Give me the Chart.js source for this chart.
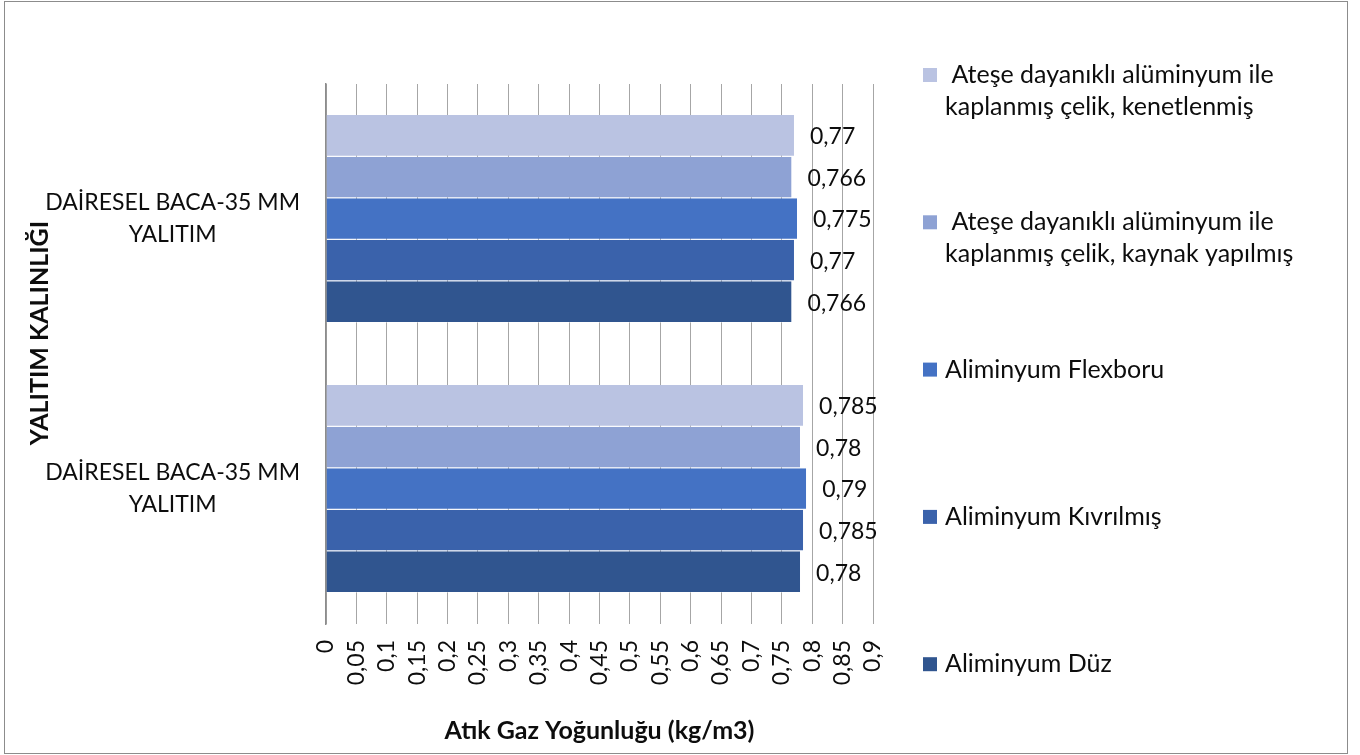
<!DOCTYPE html>
<html>
<head>
<meta charset="utf-8">
<title>Atık Gaz Yoğunluğu</title>
<script src="https://cdn.jsdelivr.net/npm/chart.js@4.4.1/dist/chart.umd.min.js"></script>
<style>
  body { margin: 0; background: #fff; }
  #wrap { position: relative; width: 1360px; height: 755px; }
  #frame { position: absolute; left: 4px; top: 1px; width: 1342px; height: 751px; border: 1.5px solid #8c8c8c; pointer-events: none; }
  canvas { position: absolute; left: 0; top: 0; }
</style>
</head>
<body>
<div id="wrap">
  <canvas id="chart" width="1360" height="755"></canvas>
  <div id="frame"></div>
</div>
<script>
// ========== VERİ ==========
const categories = [
    ['DAİRESEL BACA-35 MM', 'YALITIM'],
    ['DAİRESEL BACA-35 MM', 'YALITIM']
];

// legend satırları (üstten alta, grafikteki sırayla)
const seriesNames = [
    [' Ateşe dayanıklı alüminyum ile', 'kaplanmış çelik, kenetlenmiş'],
    [' Ateşe dayanıklı alüminyum ile', 'kaplanmış çelik, kaynak yapılmış'],
    ['Aliminyum Flexboru'],
    ['Aliminyum Kıvrılmış'],
    ['Aliminyum Düz']
];

const kenetlenmis = [0.77, 0.785];
const kaynakYapilmis = [0.766, 0.78];
const flexboru = [0.775, 0.79];
const kivrilmis = [0.77, 0.785];
const duz = [0.766, 0.78];

const seriesColors = ['#BAC3E2', '#8EA2D4', '#4472C4', '#3A62AB', '#30558F'];

const xMin = 0;
const xMax = 0.9;
const xStep = 0.05;

const axisTitleX = 'Atık Gaz Yoğunluğu (kg/m3)';
const axisTitleY = 'YALITIM KALINLIĞI';

const FONT = 'Lato, "Open Sans", sans-serif';

function fmt(v) {
    return String(Number(v.toFixed(3))).replace('.', ',');
}

// veri etiketleri: çubuğun sağına değer
const valueLabels = {
    id: 'valueLabels',
    afterDatasetsDraw(chart) {
        const ctx = chart.ctx;
        ctx.save();
        ctx.font = '23px ' + FONT;
        ctx.fillStyle = '#0d0d0d';
        ctx.textAlign = 'left';
        ctx.textBaseline = 'middle';
        chart.data.datasets.forEach((ds, i) => {
            chart.getDatasetMeta(i).data.forEach((bar, j) => {
                ctx.fillText(fmt(ds.data[j]), bar.x + 16, bar.y + 1);
            });
        });
        ctx.restore();
    }
};

// sağdaki legend + dikey eksen başlığı
const sideLegend = {
    id: 'sideLegend',
    afterDraw(chart) {
        const ctx = chart.ctx;
        ctx.save();
        ctx.font = '25px ' + FONT;
        ctx.fillStyle = '#0d0d0d';
        ctx.textBaseline = 'middle';
        ctx.textAlign = 'left';
        chart.data.datasets.forEach((ds, i) => {
            const y0 = 75 + 147.3 * i;
            ctx.fillStyle = ds.backgroundColor;
            ctx.fillRect(923, y0 - 7, 14, 14);
            ctx.fillStyle = '#0d0d0d';
            seriesNames[i].forEach((line, k) => {
                ctx.fillText(line, 945, y0 + k * 32);
            });
        });

        ctx.translate(40, 333);
        ctx.rotate(-Math.PI / 2);
        ctx.font = 'bold 25px ' + FONT;
        ctx.textAlign = 'center';
        ctx.fillText(axisTitleY, 0, 0);
        ctx.restore();
    }
};

const seriesData = [kenetlenmis, kaynakYapilmis, flexboru, kivrilmis, duz];

new Chart(document.getElementById('chart'), {
    type: 'bar',
    data: {
        labels: categories,
        datasets: seriesData.map((d, i) => ({
            label: seriesNames[i].join(' ').trim(),
            data: d,
            backgroundColor: seriesColors[i],
            borderColor: 'rgba(255,255,255,0.35)',
            borderWidth: { top: 0, right: 0, bottom: 1, left: 0 },
            borderSkipped: false,
            barPercentage: 1,
            categoryPercentage: 0.77
        }))
    },
    options: {
        indexAxis: 'y',
        responsive: false,
        animation: false,
        layout: { padding: { top: 84, right: 487, bottom: 0, left: 0 } },
        plugins: {
            legend: { display: false },
            tooltip: { enabled: false }
        },
        scales: {
            x: {
                min: xMin,
                max: xMax,
                afterFit: s => { s.height = 131; },
                ticks: {
                    stepSize: xStep,
                    autoSkip: false,
                    minRotation: 90,
                    maxRotation: 90,
                    padding: 16,
                    color: '#0d0d0d',
                    font: { family: FONT, size: 23 },
                    callback: v => fmt(v)
                },
                grid: { color: '#A6A6A6', lineWidth: 1, drawTicks: false },
                border: { display: false },
                title: {
                    display: true,
                    text: axisTitleX,
                    color: '#0d0d0d',
                    font: { family: FONT, size: 25, weight: 'bold' },
                    padding: { top: 0, bottom: 9 }
                }
            },
            y: {
                afterFit: s => { s.width = 326; },
                ticks: {
                    crossAlign: 'center',
                    padding: 26,
                    color: '#0d0d0d',
                    font: { family: FONT, size: 23, lineHeight: 1.39 }
                },
                grid: { display: false, drawTicks: false },
                border: { display: true, color: '#8C8C8C', width: 1.5 }
            }
        }
    },
    plugins: [valueLabels, sideLegend]
});
</script>
</body>
</html>
